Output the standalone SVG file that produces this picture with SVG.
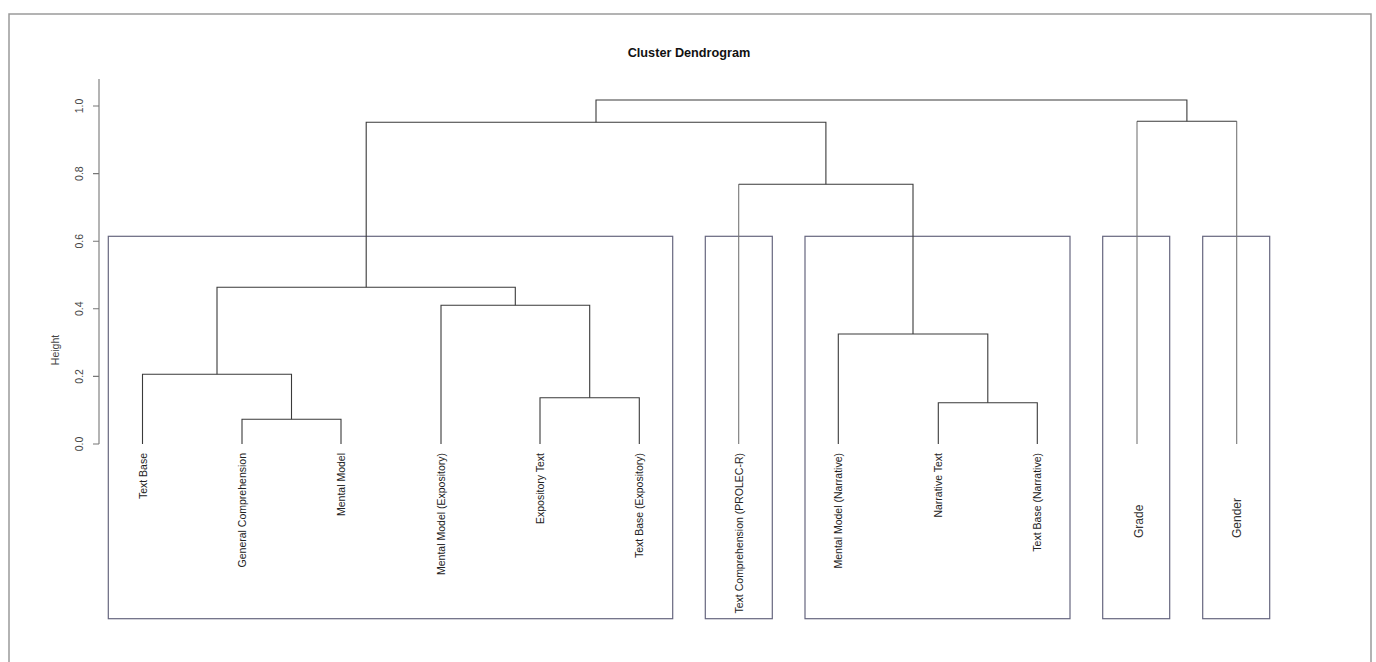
<svg xmlns="http://www.w3.org/2000/svg" width="1376" height="662" viewBox="0 0 1376 662">
<style>
.lbl{font-family:"Liberation Sans",Arial,sans-serif;font-size:10.5px;fill:#222}
.big{font-family:"Liberation Sans",Arial,sans-serif;font-size:12px;fill:#333}
.tick{font-family:"Liberation Sans",Arial,sans-serif;font-size:10.5px;fill:#444}
.title{font-family:"Liberation Sans",Arial,sans-serif;font-size:12.7px;font-weight:bold;fill:#111}
.br{fill:none;stroke:#3a3a3a;stroke-width:1.1}
.lt{fill:none;stroke:#777;stroke-width:1.1}
.box{fill:none;stroke:#66667f;stroke-width:1.2}
</style>
<rect x="0" y="0" width="1376" height="662" fill="#fff"/>
<path d="M9,662 V14 H1371 V662" fill="none" stroke="#9a9a9a" stroke-width="1.5"/>
<text class="title" x="689" y="57" text-anchor="middle">Cluster Dendrogram</text>
<g id="axis">
<path d="M99,79 V444 M93,106 H99 M93,173.6 H99 M93,241.2 H99 M93,308.8 H99 M93,376.4 H99 M93,444 H99" fill="none" stroke="#777" stroke-width="1.1"/>
<text class="tick" transform="translate(83,106) rotate(-90)" text-anchor="middle">1.0</text>
<text class="tick" transform="translate(83,173.6) rotate(-90)" text-anchor="middle">0.8</text>
<text class="tick" transform="translate(83,241.2) rotate(-90)" text-anchor="middle">0.6</text>
<text class="tick" transform="translate(83,308.8) rotate(-90)" text-anchor="middle">0.4</text>
<text class="tick" transform="translate(83,376.4) rotate(-90)" text-anchor="middle">0.2</text>
<text class="tick" transform="translate(83,444) rotate(-90)" text-anchor="middle">0.0</text>
<text class="tick" transform="translate(59,350) rotate(-90)" text-anchor="middle">Height</text>
</g>
<g id="clusters">
<rect class="box" x="108.3" y="236.3" width="564.4" height="382.4"/>
<rect class="box" x="705.3" y="236.3" width="67" height="382.4"/>
<rect class="box" x="805" y="236.3" width="265" height="382.4"/>
<rect class="box" x="1102.7" y="236.3" width="67" height="382.4"/>
<rect class="box" x="1202.7" y="236.3" width="67" height="382.4"/>
</g>
<g id="connectors">
<path class="br" d="M242,444 V419.3 H341 V444"/>
<path class="br" d="M142.5,444 V374.3 H291.5 V419.3"/>
<path class="br" d="M540,444 V397.7 H639.3 V444"/>
<path class="br" d="M441,444 V305.3 H589.7 V397.7"/>
<path class="br" d="M217,374.3 V287.3 H515.3 V305.3"/>
<path class="br" d="M938.3,444 V402.7 H1037.3 V444"/>
<path class="br" d="M838.3,444 V334 H987.8 V402.7"/>
<path class="lt" d="M738.7,444 V184.3"/>
<path class="br" d="M738.7,184.3 H913 V334"/>
<path class="br" d="M366.2,287.3 V122.3 H825.9 V184.3"/>
<path class="lt" d="M1137,444 V121.3 M1236.7,444 V121.3"/>
<path class="br" d="M1137,121.3 H1236.7"/>
<path class="br" d="M596,122.3 V100 H1186.9 V121.3"/>
</g>
<g id="leaf-text-base"><text class="lbl" transform="translate(146.5,453) rotate(-90)" text-anchor="end">Text Base</text></g>
<g id="leaf-general-comprehension"><text class="lbl" transform="translate(246,453) rotate(-90)" text-anchor="end">General Comprehension</text></g>
<g id="leaf-mental-model"><text class="lbl" transform="translate(345,453) rotate(-90)" text-anchor="end">Mental Model</text></g>
<g id="leaf-mental-model-expository"><text class="lbl" transform="translate(445,453) rotate(-90)" text-anchor="end">Mental Model (Expository)</text></g>
<g id="leaf-expository-text"><text class="lbl" transform="translate(544,453) rotate(-90)" text-anchor="end">Expository Text</text></g>
<g id="leaf-text-base-expository"><text class="lbl" transform="translate(643.3,453) rotate(-90)" text-anchor="end">Text Base (Expository)</text></g>
<g id="leaf-text-comprehension"><text class="lbl" transform="translate(742.7,453) rotate(-90)" text-anchor="end">Text Comprehension (PROLEC-R)</text></g>
<g id="leaf-mental-model-narrative"><text class="lbl" transform="translate(842.3,453) rotate(-90)" text-anchor="end">Mental Model (Narrative)</text></g>
<g id="leaf-narrative-text"><text class="lbl" transform="translate(942.3,453) rotate(-90)" text-anchor="end">Narrative Text</text></g>
<g id="leaf-text-base-narrative"><text class="lbl" transform="translate(1041.3,453) rotate(-90)" text-anchor="end">Text Base (Narrative)</text></g>
<g id="leaf-grade"><text class="big" transform="translate(1143,538) rotate(-90)" text-anchor="start">Grade</text></g>
<g id="leaf-gender"><text class="big" transform="translate(1241,538) rotate(-90)" text-anchor="start">Gender</text></g>
</svg>
